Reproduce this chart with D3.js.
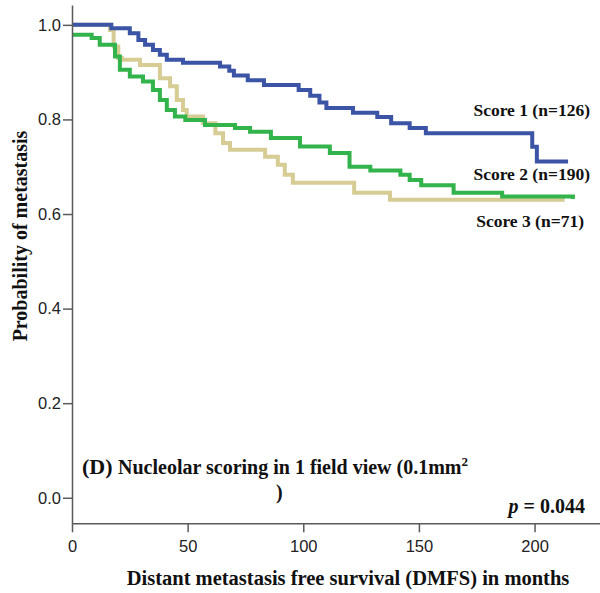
<!DOCTYPE html>
<html>
<head>
<meta charset="utf-8">
<script src="https://cdn.jsdelivr.net/npm/d3@7"></script>
<style>
  body { margin: 0; background: #fff; }
  svg { display: block; }
  .tick text { font-family: "Liberation Sans", Arial, sans-serif; font-size: 16.5px; fill: #222; }
  .lbl { font-family: "Liberation Serif", "Times New Roman", serif; font-weight: bold; fill: #111; }
</style>
</head>
<body>
<div id="chart"></div>
<script>
// data (months, survival)
var score1Times = [0, 17, 25, 28.7, 31.6, 35, 38, 41, 48, 64, 68, 70, 76, 83, 98, 103, 107, 110, 121.5, 132, 138, 146, 153, 199, 201, 214.5];
var score1Surv  = [1.0, 0.993, 0.982, 0.968, 0.958, 0.947, 0.937, 0.926, 0.920, 0.912, 0.903, 0.893, 0.883, 0.873, 0.862, 0.85, 0.836, 0.824, 0.814, 0.805, 0.792, 0.782, 0.771, 0.742, 0.711, 0.711];

var score2Times = [0, 8.5, 12, 18.6, 20.7, 25, 30.7, 35, 38, 41, 44.5, 49, 57.5, 70.5, 77, 86, 98.6, 111.5, 120, 129, 142, 146, 151, 165, 186, 216.6];
var score2Surv  = [0.979, 0.972, 0.958, 0.933, 0.905, 0.891, 0.880, 0.862, 0.841, 0.820, 0.806, 0.799, 0.788, 0.782, 0.774, 0.761, 0.743, 0.729, 0.70, 0.692, 0.683, 0.672, 0.661, 0.645, 0.637, 0.632];

var score3Times = [0, 16.4, 18, 20, 21.5, 29.4, 38, 42.4, 45.3, 48, 49.6, 56.7, 62, 65.3, 68.3, 83.5, 89, 92, 95.5, 122, 137.5, 213];
var score3Surv  = [1.0, 0.989, 0.954, 0.93, 0.926, 0.915, 0.887, 0.870, 0.841, 0.820, 0.806, 0.792, 0.771, 0.750, 0.736, 0.721, 0.704, 0.683, 0.666, 0.645, 0.63, 0.63];

var seriesNames  = ['Score 1 (n=126)', 'Score 2 (n=190)', 'Score 3 (n=71)'];
var seriesColors = ['#3b54a6', '#33b34b', '#d6cc94'];
var xTicks = [0, 50, 100, 150, 200];
var yTicks = [0, 0.2, 0.4, 0.6, 0.8, 1.0];

var width = 600, height = 593;

var svg = d3.select('#chart').append('svg')
  .attr('width', width)
  .attr('height', height);

var x = d3.scaleLinear().domain([0, 228.3]).range([72, 600]);
var y = d3.scaleLinear().domain([-0.054, 1.042]).range([523.3, 5]);

// curves
var allSeries = [
  { t: score3Times, s: score3Surv, color: seriesColors[2] },
  { t: score2Times, s: score2Surv, color: seriesColors[1] },
  { t: score1Times, s: score1Surv, color: seriesColors[0] }
];

var line = d3.line()
  .x(function(d){ return x(d[0]); })
  .y(function(d){ return y(d[1]); })
  .curve(d3.curveStepAfter);

allSeries.forEach(function(ser){
  var pts = ser.t.map(function(t, i){ return [t, ser.s[i]]; });
  svg.append('path')
    .datum(pts)
    .attr('d', line)
    .attr('fill', 'none')
    .attr('stroke', ser.color)
    .attr('stroke-width', 4);
});

// axes
svg.append('g')
  .attr('transform', 'translate(0,' + y(-0.054) + ')')
  .call(d3.axisBottom(x).tickValues(xTicks).tickSizeInner(9).tickSizeOuter(0).tickPadding(8));

svg.append('g')
  .attr('transform', 'translate(' + x(0) + ',0)')
  .call(d3.axisLeft(y).tickValues(yTicks).tickSizeInner(9).tickSizeOuter(0).tickPadding(2)
    .tickFormat(d3.format('.1f')));

svg.selectAll('.domain').attr('stroke', '#5a5a5a').attr('stroke-width', 1.5);
svg.selectAll('.tick line').attr('stroke', '#5a5a5a').attr('stroke-width', 1.5);

// axis titles
svg.append('text')
  .attr('class', 'lbl')
  .attr('x', 348).attr('y', 585)
  .attr('text-anchor', 'middle')
  .style('font-size', '20.5px')
  .text('Distant metastasis free survival (DMFS) in months');

svg.append('text')
  .attr('class', 'lbl')
  .attr('transform', 'translate(27,236) rotate(-90)')
  .attr('text-anchor', 'middle')
  .style('font-size', '20px')
  .text('Probability of metastasis');

// series labels
var labelPos = [[590, 116], [590, 180], [584, 227]];
seriesNames.forEach(function(n, i){
  svg.append('text')
    .attr('class', 'lbl')
    .attr('x', labelPos[i][0]).attr('y', labelPos[i][1])
    .attr('text-anchor', 'end')
    .style('font-size', '17.5px')
    .text(n);
});

// panel caption
var cap = svg.append('text')
  .attr('class', 'lbl')
  .attr('x', 82).attr('y', 474)
  .style('font-size', '20px');
cap.append('tspan').style('font-size', '22px').text('(D) ');
cap.append('tspan').text('Nucleolar scoring in 1 field view (0.1mm');
cap.append('tspan').attr('dy', -8).style('font-size', '13px').text('2');

svg.append('text')
  .attr('class', 'lbl')
  .attr('x', 276).attr('y', 499)
  .style('font-size', '20px')
  .text(')');

var pv = svg.append('text')
  .attr('class', 'lbl')
  .attr('x', 585).attr('y', 513)
  .attr('text-anchor', 'end')
  .style('font-size', '20px');
pv.append('tspan').style('font-style', 'italic').text('p');
pv.append('tspan').text(' = 0.044');
</script>
</body>
</html>
